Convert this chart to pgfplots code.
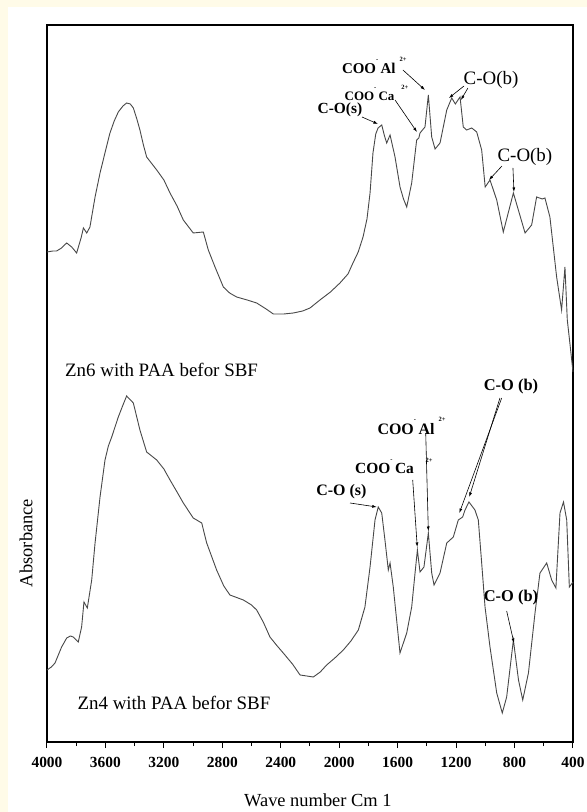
\documentclass[border=0pt]{standalone}
\usepackage{fontspec}
\setmainfont{Liberation Serif}
\usepackage{pgfplots}
\pgfplotsset{compat=1.18}
\usetikzlibrary{arrows.meta}
\definecolor{cream}{RGB}{255,251,232}
\definecolor{curve}{RGB}{72,72,72}
\newcommand{\sgn}[1]{\raisebox{0.8em}{\fontsize{6.5}{6.5}\selectfont #1}}
\tikzset{arr/.style={line width=0.6bp, -{Latex[length=4.5bp,width=3bp]}}}
\begin{document}
\begin{tikzpicture}
\useasboundingbox (0,0) rectangle (587bp,812bp);
\fill[cream] (0,0) rectangle (587bp,812bp);
\fill[white] (8bp,0) rectangle (587bp,805bp);
\begin{axis}[
  at={(47bp,70bp)}, anchor=south west,
  width=526bp, height=717bp, scale only axis,
  xmin=400, xmax=4000, x dir=reverse, ymin=0, ymax=717,
  xtick={400,800,...,4000}, minor x tick num=1,
  ytick=\empty, xtick pos=bottom, tick align=outside,
  major tick length=6bp, minor tick length=4bp,
  axis line style={line width=1.3bp},
  every tick/.style={black, line width=1bp},
  clip=false, scaled x ticks=false,
  /pgf/number format/assume math mode=true,
  /pgf/number format/1000 sep={},
  xticklabel style={font=\fontsize{15.5}{15.5}\selectfont\bfseries, yshift=-6bp},
]
% Zn6 (upper)
\addplot[curve, line width=0.9bp] coordinates {
(4000,490) (3960,491) (3934,491) (3900,494) (3880,497) (3865,499) (3831,495) (3797,489) (3765,505) (3751,514) (3728,509) (3706,515)
(3671,545) (3637,569) (3600,591) (3569,609) (3540,621) (3512,630) (3480,636) (3455,639) (3430,638) (3409,634) (3385,623) (3364,612) (3340,597) (3318,585)
(3249,572) (3200,562) (3158,549) (3110,536) (3067,522) (2999,509) (2930,510) (2896,492) (2850,475) (2793,455)
(2750,449) (2702,445) (2630,442) (2565,439) (2500,433) (2451,428) (2380,428) (2314,429) (2250,431) (2200,434) (2132,442) (2060,450) (1995,459)
(1940,468) (1906,479) (1870,490) (1837,505) (1810,523) (1789,549) (1769,589) (1750,608) (1734,614) (1709,617) (1690,606) (1675,599) (1652,607)
(1618,585) (1584,555) (1560,543) (1538,535) (1504,559) (1470,602) (1455,604) (1447,609) (1413,615) (1390,647)
(1367,605) (1344,593) (1310,599) (1264,632) (1230,644) (1205,638) (1196,640) (1173,645) (1151,615)
(1128,612) (1093,614) (1059,610) (1025,592) (1001,555) (968,562) (922,542) (877,510)
(808,549) (728,509) (683,517) (649,545) (610,543) (592,544) (558,525) (512,465) (478,432)
(455,475) (439,422) (420,397) (400,370)
};
% Zn4 (lower)
\addplot[curve, line width=0.9bp] coordinates {
(4000,72) (3970,75) (3945,79) (3900,95) (3865,104) (3840,106) (3820,105) (3786,100) (3763,115) (3747,140)
(3724,134) (3694,162) (3671,199) (3637,245) (3603,282) (3580,296) (3557,305) (3512,325) (3480,337) (3455,346)
(3409,339) (3364,312) (3318,290) (3249,282) (3200,273) (3158,262) (3110,250) (3067,239) (2999,224) (2941,219)
(2907,199) (2839,172) (2790,156) (2748,147) (2656,142) (2600,137) (2565,132) (2520,120) (2474,105) (2430,97) (2383,89) (2320,78) (2268,67)
(2177,65) (2130,70) (2086,77) (2030,84) (1972,92) (1920,101) (1869,112) (1824,135) (1789,175) (1755,222) (1733,235)
(1709,229) (1687,202) (1664,172) (1652,179) (1630,155) (1607,122) (1584,89) (1561,99)
(1538,109) (1504,135) (1481,169) (1465,192) (1447,170) (1420,175) (1390,209) (1367,169)
(1351,157) (1310,169) (1264,199) (1219,205) (1185,222) (1155,225) (1139,232) (1112,240)
(1071,232) (1048,222) (1025,179) (1002,135) (968,95) (922,49) (884,29) (854,45) (808,102)
(773,62) (744,42) (705,69) (660,129) (626,169) (580,179) (546,162) (517,154) (489,229)
(465,240) (443,222) (425,155) (400,160)
};
% ---- upper annotations
\node[font=\fontsize{15.5}{15.5}\selectfont\bfseries] at (axis cs:1995,632) {C-O(s)};
\draw[arr] (axis cs:1844,625) -- (axis cs:1735,618);
\node[font=\fontsize{13}{13}\selectfont\bfseries] at (axis cs:1745,649) {COO\sgn{-}\,Ca\hspace{7bp}\sgn{2+}};
\draw[arr] (axis cs:1618,642) -- (axis cs:1468,610);
\node[font=\fontsize{15}{15}\selectfont\bfseries] at (axis cs:1760,677) {COO\sgn{-}\,Al\hspace{4bp}\sgn{2+}};
\draw[arr] (axis cs:1564,672) -- (axis cs:1413,652);
\node[font=\fontsize{19}{19}\selectfont] at (axis cs:961,662) {C-O(b)};
\draw[arr] (axis cs:1146,656) -- (axis cs:1249,644);
\draw[arr] (axis cs:1119,654) -- (axis cs:1167,642);
\node[font=\fontsize{19}{19}\selectfont] at (axis cs:729,585) {C-O(b)};
\draw[arr] (axis cs:886,576) -- (axis cs:975,562);
\draw[arr] (axis cs:811,574) -- (axis cs:804,550);
% ---- lower annotations
\node[font=\fontsize{16.5}{16.5}\selectfont\bfseries] at (axis cs:824,355) {C-O (b)};
\draw[arr] (axis cs:888,344) -- (axis cs:1178,229);
\draw[arr] (axis cs:900,344) -- (axis cs:1110,245);
\node[font=\fontsize{16}{16}\selectfont\bfseries] at (axis cs:1505,316) {COO\sgn{-}\,Al\hspace{4bp}\sgn{2+}};
\draw[arr] (axis cs:1408,309) -- (axis cs:1390,211);
\node[font=\fontsize{15.5}{15.5}\selectfont\bfseries] at (axis cs:1690,275) {COO\sgn{-}\,Ca};
\node[font=\fontsize{6.5}{6.5}\selectfont\bfseries] at (axis cs:1385,282) {2+};
\draw[arr] (axis cs:1497,262) -- (axis cs:1466,195);
\node[font=\fontsize{16}{16}\selectfont\bfseries] at (axis cs:1985,250) {C-O (s)};
\draw[arr] (axis cs:1926,239) -- (axis cs:1743,235);
\node[font=\fontsize{16.5}{16.5}\selectfont\bfseries] at (axis cs:824,144) {C-O (b)};
\draw[arr] (axis cs:854,131) -- (axis cs:804,99);
% ---- sample labels
\node[anchor=west, font=\fontsize{19}{19}\selectfont] at (axis cs:3900,372) {Zn6 with PAA befor SBF};
\node[anchor=west, font=\fontsize{19}{19}\selectfont] at (axis cs:3815,39) {Zn4 with PAA befor SBF};
% ---- axis titles
\node[rotate=90, font=\fontsize{18.5}{18.5}\selectfont] at (rel axis cs:-0.040,0.2775) {Absorbance};
\node[font=\fontsize{18.5}{18.5}\selectfont] at (rel axis cs:0.515,-0.081) {Wave number Cm 1};
\end{axis}
\end{tikzpicture}
\end{document}
